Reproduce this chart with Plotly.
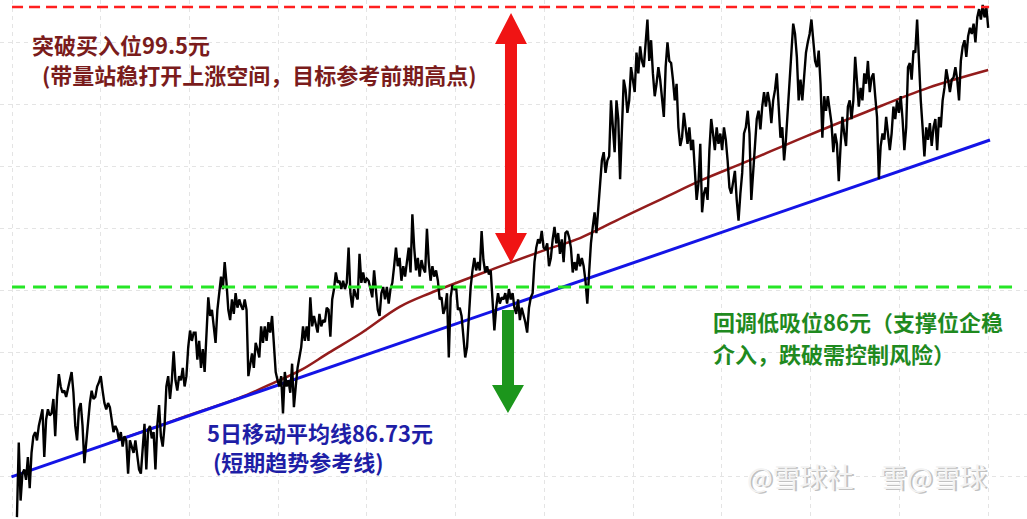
import plotly.graph_objects as go

W, H = 1027, 519

# closing prices in five sections (left to right)
prices_a = [
    74.9, 78.5, 75.7, 77.0, 77.2, 76.7, 77.8, 76.3, 78.0, 78.8,
    79.0, 78.6, 79.3, 79.7, 80.1, 77.8, 79.6, 80.1, 79.8, 79.9,
    80.6, 78.8, 80.7, 81.8, 81.2, 80.9, 81.0, 80.7, 81.1, 81.4,
    81.9, 80.9, 79.3, 78.6, 80.1, 80.4, 79.3, 77.5, 78.6, 79.6,
    80.4, 81.0, 80.6, 80.7, 81.2, 81.4, 81.7, 81.0, 80.4, 80.1,
    80.4, 80.2, 79.7, 79.0, 79.3, 79.1, 78.6, 79.0, 78.3, 78.8,
    78.6, 77.0, 78.6, 78.3, 78.0, 78.6, 78.0, 77.2, 77.0, 78.3,
    79.4, 77.2, 79.1, 79.3, 78.7, 79.0, 77.2, 79.3, 80.3, 78.8,
    78.3, 79.3, 81.2, 81.7, 80.6, 81.5, 82.9, 81.5, 81.0, 81.7,
    81.5, 82.1, 81.2, 81.7, 83.1, 83.9, 83.4, 83.8,
]
prices_b = [
    83.8, 82.5, 83.4, 82.1, 83.0, 81.9, 84.1, 85.5, 84.6, 84.9,
    84.1, 83.3, 84.9, 85.7, 86.5, 85.9, 87.2, 86.2, 84.9, 84.4,
    85.4, 84.7, 85.7, 85.0, 85.4, 85.1, 84.9, 85.4, 84.9, 81.7,
    82.3, 82.8, 82.1, 83.3, 83.0, 82.6, 84.1, 83.3, 84.1, 83.4,
    84.3, 83.8, 84.6, 83.4, 81.9, 81.5, 81.2, 81.7, 79.9, 81.9,
    81.2, 81.5, 80.9, 82.3, 80.2, 81.2, 82.1, 82.6, 83.1, 84.1,
    83.4, 84.1, 83.4, 85.5, 84.1, 84.6, 84.2, 83.8, 84.7, 84.1,
    84.4, 84.3, 85.0, 84.9, 83.6, 85.4, 85.9, 86.7, 86.2, 86.3,
    85.9, 86.3, 85.9, 86.2, 87.9, 85.7, 85.0, 85.9, 85.6, 85.4,
    87.6, 86.2, 86.7, 86.2, 86.4, 86.3, 85.9, 85.5, 86.8, 85.7,
    84.9, 84.6, 85.7, 86.0, 85.4, 86.0, 85.2, 85.9, 86.2, 87.0,
    87.9, 87.0,
]
prices_c = [
    87.4, 86.3, 87.0, 86.5, 87.2, 87.9, 86.7, 89.5, 87.9, 86.8,
    87.4, 86.5, 87.3, 86.9, 86.7, 88.8, 87.2, 86.3, 87.0, 86.5,
    86.8, 86.3, 85.4, 85.5, 84.7, 85.0, 85.7, 82.6, 85.5, 86.1,
    85.9, 86.0, 84.9, 85.0, 84.6, 83.6, 82.6, 83.1, 84.7, 86.0,
    86.8, 87.4, 86.8, 87.2, 86.8, 88.7, 87.3, 86.7, 87.0, 86.6,
    86.8, 85.2, 83.9, 85.0, 85.7, 85.2, 85.5, 85.4, 85.7, 85.2,
    85.9, 85.4, 85.7, 85.0, 84.7, 85.4, 84.4, 85.0, 84.7, 84.3,
    83.8, 85.0, 85.5, 85.7, 87.2, 87.9, 88.3, 88.1, 88.7, 87.9,
    87.8, 88.1, 87.0, 87.4, 88.3, 88.9, 88.1, 88.6, 87.6, 88.3,
    87.2, 88.6, 88.7, 88.4, 87.9, 86.7, 87.2, 86.8, 87.6, 87.0,
    87.4, 87.0, 86.3, 85.2, 86.7, 88.1, 88.9,
]
prices_d = [
    89.6, 88.6, 89.9, 90.8, 92.1, 92.5, 91.5, 92.1, 92.3, 95.0,
    93.7, 92.5, 95.0, 94.1, 91.2, 94.2, 96.0, 95.5, 94.4, 95.0,
    96.6, 96.0, 95.4, 97.3, 96.3, 97.6, 96.9, 96.6, 97.9, 98.9,
    96.9, 97.9, 96.3, 95.2, 95.8, 96.6, 96.0, 95.0, 94.2, 96.6,
    97.8, 96.9, 96.8, 96.0, 95.0, 95.8, 93.7, 92.8, 93.2, 94.4,
    93.7, 92.9, 93.7, 92.6, 93.1, 91.8, 90.2, 91.0, 92.9, 89.6,
    90.5, 90.8, 90.2, 92.6, 94.1, 93.4, 92.6, 93.7, 92.9, 93.4,
    92.6, 93.7, 93.1, 92.1, 90.8, 90.5, 91.0, 91.6, 90.2, 89.2,
    90.5, 91.5, 93.4, 93.7, 94.5, 93.4, 90.2, 91.5, 92.9, 94.1,
    94.5, 93.6, 94.7, 95.4, 94.7, 95.4, 94.9, 93.9, 95.0, 95.5,
    96.3, 95.0, 93.2, 93.7, 92.1, 93.1, 94.4, 95.8, 96.9, 98.7,
    98.2, 97.1, 95.0,
]
prices_e = [
    96.0, 95.0, 96.3, 97.3, 97.8, 98.2, 98.9, 97.8, 96.9, 96.6,
    97.4, 95.8, 93.2, 95.2, 94.5, 95.2, 94.4, 93.9, 92.5, 93.4,
    92.9, 91.1, 92.8, 94.2, 93.4, 92.8, 94.7, 95.0, 94.1, 95.0,
    97.1, 95.8, 94.7, 95.6, 95.0, 96.3, 95.8, 96.9, 95.4, 96.1,
    96.3, 95.2, 94.2, 91.2, 92.8, 93.4, 93.1, 94.2, 93.4, 92.6,
    93.4, 94.7, 94.1, 95.0, 94.4, 95.2, 94.1, 92.6, 93.7, 96.6,
    96.8, 96.0, 97.4, 97.3, 98.9, 96.6, 95.0, 93.7, 92.3, 93.7,
    93.1, 93.9, 92.8, 93.7, 94.1, 92.6, 94.2, 93.7, 95.0, 95.6,
    96.5, 96.0, 95.4, 96.0, 96.1, 96.6, 96.0, 95.0, 96.9, 97.6,
    97.9, 97.1, 98.1, 98.5, 98.2, 98.7, 97.8, 99.0, 99.4, 98.9,
    99.6, 99.0, 99.5, 98.5,
]
close_prices = prices_a + prices_b + prices_c + prices_d + prices_e
days = list(range(len(close_prices)))

# smoothed moving average (dark red)
ma_days = [51, 78, 98, 122, 142, 156, 171, 189, 210, 227, 263, 290, 309, 335, 354, 376, 400, 432, 466, 500, 533]
ma_values = [78.48, 79.30, 79.93, 80.65, 81.42, 82.00, 82.82, 83.78, 85.04, 85.71, 86.92, 87.79,
             88.36, 89.47, 90.25, 91.16, 92.03, 93.23, 94.44, 95.60, 96.46]

# rising support trend line (blue)
trend_days = [-3, 534]
trend_values = [76.84, 93.09]

BREAKOUT = 99.5
SUPPORT = 86.0


def px_x(x):
    return x / W


def px_y(y):
    return 1 - y / H


def poly(points):
    return "M " + " L ".join(f"{px_x(x):.4f},{px_y(y):.4f}" for x, y in points) + " Z"


fig = go.Figure()
fig.add_trace(go.Scatter(x=ma_days, y=ma_values, mode="lines", line=dict(color="#931c1c", width=2.5, shape="spline"), hoverinfo="skip"))
fig.add_trace(go.Scatter(x=trend_days, y=trend_values, mode="lines", line=dict(color="#1414e6", width=3), hoverinfo="skip"))
fig.add_trace(go.Scatter(x=days, y=close_prices, mode="lines", line=dict(color="#000000", width=2.4),
                         hovertemplate="第%{x}天<br>%{y:.2f}元<extra></extra>"))

shapes = [
    dict(type="line", xref="x", yref="y", x0=-2.7, x1=533.5, y0=BREAKOUT, y1=BREAKOUT,
         line=dict(color="#ff1f1f", width=2.5, dash="11px,6px")),
    dict(type="line", xref="x", yref="y", x0=-2.7, x1=550, y0=SUPPORT, y1=SUPPORT,
         line=dict(color="#26e626", width=3, dash="13px,8px")),
    # red double arrow
    dict(type="path", xref="paper", yref="paper", line=dict(width=0), fillcolor="#f01414",
         path=poly([(511, 13), (527, 44), (517, 44), (517, 233), (527, 233), (511, 263),
                    (495, 233), (505, 233), (505, 44), (495, 44)])),
    # green down arrow
    dict(type="path", xref="paper", yref="paper", line=dict(width=0), fillcolor="#1c961c",
         path=poly([(502, 310), (514, 310), (514, 385), (524, 385), (508, 413), (492, 385), (502, 385)])),
]

font = "Noto Sans CJK SC"
notes = [
    ("<b>突破买入位99.5元</b>", 30, 44, "#7a1c1c"),
    ("<b>(带量站稳打开上涨空间，目标参考前期高点)</b>", 40, 74, "#7a1c1c"),
    ("<b>回调低吸位86元（支撑位企稳</b>", 711, 321, "#1f8a1f"),
    ("<b>介入，跌破需控制风险）</b>", 711, 353, "#1f8a1f"),
    ("<b>5日移动平均线86.73元</b>", 205, 432, "#1e1ea6"),
    ("<b>(短期趋势参考线)</b>", 211, 461, "#1e1ea6"),
]
annotations = []
for text, x, y, color in notes:
    annotations.append(dict(text=text, x=px_x(x), y=px_y(y), xref="paper", yref="paper", xanchor="left",
                            yanchor="middle", showarrow=False, font=dict(family=font, size=22, color=color)))

# embossed watermark, two overlapping stamps
for text, x in [("@雪球社", 745), ("雪@雪球", 878)]:
    for dx, dy, color in [(1.5, 1.5, "#c2c2c2"), (0, 0, "#f3f3f3")]:
        annotations.append(dict(text=text, x=px_x(x + dx), y=px_y(476 + dy), xref="paper", yref="paper",
                                xanchor="left", yanchor="middle", showarrow=False,
                                font=dict(family=font, size=27, color=color)))

fig.update_layout(
    width=W, height=H, margin=dict(l=0, r=0, t=0, b=0),
    paper_bgcolor="white", plot_bgcolor="white", showlegend=False,
    shapes=shapes, annotations=annotations,
    xaxis=dict(range=[-9.3, 554.3], showticklabels=False, zeroline=False, showline=False,
               showgrid=True, gridcolor="#e4e4e4", griddash="4px,4px", gridwidth=1, tick0=-2.7, dtick=48.7),
    yaxis=dict(range=[74.81, 99.84], showticklabels=False, zeroline=False, showline=False,
               showgrid=True, gridcolor="#e4e4e4", griddash="4px,4px", gridwidth=1, tick0=76.84, dtick=2.99),
)
fig.write_html("out.html", config={"displayModeBar": False},
               post_script="document.body.style.margin='0';")
